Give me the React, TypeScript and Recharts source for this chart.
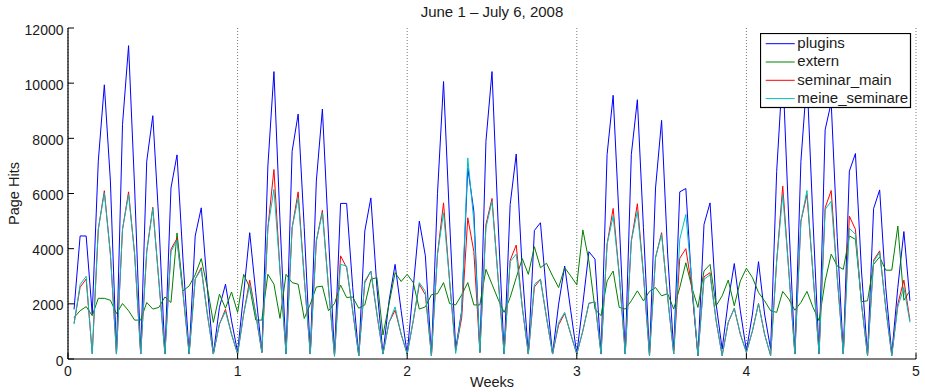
import React from 'react';
import { LineChart, Line, XAxis, YAxis, CartesianGrid, Legend } from 'recharts';

// 6-hour buckets: 28 per week, first bucket ends at 1/28 week
const SLOTS_PER_WEEK = 28;

const plugins = [
  1800, 4460, 4460, 1630, 7170, 9940, 6450, 180, 8500, 11360, 6200, 180, 7170, 8820, 5000, 180,
  6200, 7400, 3550, 180, 4460, 5480, 2590, 180, 1870, 2710, 1385, 250,
  2370, 4580, 2400, 240, 7000, 10420, 5000, 180, 7530, 8880, 4760, 180, 6450, 9060, 4500, 150,
  5640, 5640, 2600, 120, 4640, 5840, 2600, 180, 2100, 3430, 1750, 180,
  2600, 5000, 3740, 120, 6000, 10060, 5000, 360, 1750, 6930, 5360, 240, 7890, 10420, 5000, 180,
  5600, 7430, 3190, 180, 4660, 4940, 2350, 180, 1990, 3370, 1750, 180,
  2000, 3890, 3620, 180, 7410, 9560, 5000, 180, 7410, 9400, 4760, 120, 6200, 8650, 3800, 300,
  6060, 6180, 2600, 120, 4880, 5660, 2000, 360, 2100, 3460, 1750, 300,
  1630, 3530, 1630, 360, 6800, 10500, 5000, 180, 7170, 10200, 5000, 180, 8310, 9300, 4400, 180,
  6810, 7450, 3190, 120, 5450, 6130, 2600, 180, 2600, 4620, 2110,
];

const extern = [
  1500, 1750, 1900, 1570, 2200, 2200, 2130, 1650, 2010, 1750, 1410, 1410, 2050, 1810, 1870, 2250,
  2050, 4570, 2470, 2650, 3050, 3640, 2590, 1325, 2350, 1840, 2430, 1690,
  3070, 2590, 1410, 1410, 3070, 2710, 1470, 3070, 2770, 2710, 1470, 1990, 2610, 2640, 1750, 2010,
  2680, 2230, 2250, 1840, 1960, 2890, 2950, 870, 1990, 3130, 2810, 3070,
  2770, 1810, 1890, 2330, 2370, 2770, 2010, 1960, 2330, 2770, 1960, 1960, 3250, 2710, 2170, 1690,
  2230, 2950, 3640, 3070, 4070, 3310, 3470, 3010, 2590, 3310, 3010, 2690,
  4680, 3550, 1810, 1570, 2830, 3190, 1870, 1810, 2110, 2470, 2110, 2450, 2590, 2290, 2370, 1810,
  2590, 3490, 2590, 1870, 3190, 3430, 1930, 2290, 2860, 1930, 2830, 3290,
  2950, 2410, 2110, 1750, 1690, 2450, 2170, 1770, 2050, 2450, 1870, 1390, 2830, 3800, 3370, 3250,
  4460, 4340, 2080, 2110, 3430, 3700, 3220, 3220, 4820, 2130, 2470,
];

const seminarMain = [
  1300, 2600, 2900, 200, 4700, 6100, 3800, 180, 4700, 6060, 3800, 180, 3900, 5500, 2830, 180,
  3980, 4370, 2350, 180, 2900, 3310, 1630, 180, 1265, 1800, 900, 180,
  1630, 2860, 1630, 240, 4760, 6870, 3200, 180, 4760, 6060, 2950, 180, 4280, 5390, 2600, 100,
  3740, 3310, 1750, 120, 2770, 3190, 1630, 180, 1325, 1770, 900, 180,
  1390, 2710, 2330, 120, 3800, 5660, 2830, 300, 1500, 5120, 3900, 240, 4880, 5820, 2950, 180,
  3580, 4130, 1870, 180, 2610, 2890, 1500, 180, 1240, 1650, 900, 180,
  1020, 2020, 2070, 180, 4160, 5460, 3070, 180, 4280, 5630, 3070, 120, 3680, 4580, 2230, 180,
  3650, 4000, 2600, 120, 2980, 3130, 1390, 120, 1325, 1840, 900, 240,
  1020, 2010, 900, 120, 3550, 6270, 3190, 180, 5000, 5960, 3070, 180, 5480, 6110, 2950, 180,
  5180, 4700, 2000, 120, 3580, 3920, 1870, 120, 2000, 2860, 1390,
];

const meineSeminare = [
  1265, 2700, 3000, 180, 4700, 6025, 3800, 180, 4700, 5960, 3800, 180, 3900, 5450, 2830, 180,
  3900, 4300, 2350, 180, 2900, 3250, 1630, 180, 1265, 1720, 900, 180,
  1630, 2700, 1630, 240, 4760, 6150, 3200, 180, 4760, 5840, 2950, 180, 4280, 5300, 2600, 100,
  3430, 3370, 1750, 120, 2830, 3190, 1630, 180, 1325, 1890, 900, 180,
  1390, 2770, 2450, 120, 3800, 5300, 2830, 200, 1750, 7290, 5000, 240, 4760, 5720, 2950, 180,
  3530, 3800, 1870, 180, 2710, 2890, 1500, 180, 1325, 1690, 900, 180,
  1020, 2020, 2070, 180, 4160, 5180, 3070, 180, 4280, 5360, 3070, 120, 3680, 4520, 2230, 180,
  4340, 5240, 2800, 120, 2890, 3050, 1390, 120, 1325, 1840, 900, 240,
  1020, 2010, 900, 120, 3550, 5960, 3190, 180, 5000, 6110, 3070, 180, 5420, 5720, 2950, 180,
  4740, 4520, 2000, 120, 3530, 3860, 1870, 120, 1900, 2590, 1325,
];

const weekTicks = [0, 1, 2, 3, 4, 5];
const hitTicks = [0, 2000, 4000, 6000, 8000, 10000, 12000];
const seriesKeys = ['plugins', 'extern', 'seminar_main', 'meine_seminare'];
const seriesColors = ['#0000ff', '#008000', '#ff0000', '#00bfbf'];
const titleText = 'June 1 \u2013 July 6, 2008';
const xLabelText = 'Weeks';
const yLabelText = 'Page Hits';

const rows = plugins.map((v, i) => ({
  week: (i + 1) / SLOTS_PER_WEEK,
  plugins: v,
  extern: extern[i],
  seminar_main: seminarMain[i],
  meine_seminare: meineSeminare[i],
}));

const FONT = '"Liberation Sans", Arial, Helvetica, sans-serif';
const TEXT = '#1a1a1a';
const TICK_LEN = 6;

const LeftTick = (p: any) => (
  <g>
    <line x1={p.x} x2={p.x + TICK_LEN} y1={p.y} y2={p.y} stroke="#000" strokeWidth={1} />
    <text x={p.x - 4.5} y={p.y + 6.5} textAnchor="end" fontSize={14} fontFamily={FONT} fill={TEXT}>
      {p.payload.value}
    </text>
  </g>
);

const RightTick = (p: any) => (
  <line x1={p.x} x2={p.x - TICK_LEN} y1={p.y} y2={p.y} stroke="#000" strokeWidth={1} />
);

const BottomTick = (p: any) => (
  <g>
    <line x1={p.x} x2={p.x} y1={p.y} y2={p.y - TICK_LEN} stroke="#000" strokeWidth={1} />
    <text x={p.x} y={p.y + 17} textAnchor="middle" fontSize={14} fontFamily={FONT} fill={TEXT}>
      {p.payload.value}
    </text>
  </g>
);

const TopTick = (p: any) => (
  <line x1={p.x} x2={p.x} y1={p.y} y2={p.y + TICK_LEN} stroke="#000" strokeWidth={1} />
);

const renderLegend = () => (
  <svg width={152} height={76} style={{ display: 'block' }}>
    <rect x={0.5} y={0.5} width={150} height={74} fill="#fff" stroke="#000" strokeWidth={1.2} />
    {seriesKeys.map((k, i) => {
      const cy = 10.7 + i * 18.3;
      return (
        <g key={k}>
          <line x1={5.7} x2={34.7} y1={cy} y2={cy} stroke={seriesColors[i]} strokeWidth={1} />
          <text x={37.3} y={cy + 4.2} fontSize={15} fontFamily={FONT} fill={TEXT}>
            {k}
          </text>
        </g>
      );
    })}
  </svg>
);

export default function App() {
  return (
    <div style={{ position: 'absolute', left: 0, top: 0, width: 925, height: 392, background: '#fff' }}>
      <LineChart
        width={925}
        height={392}
        data={rows}
        margin={{ top: 28, right: 9, bottom: 0, left: 0 }}
      >
        <CartesianGrid horizontal={false} vertical stroke="#777" strokeDasharray="1 2" />
        <XAxis
          dataKey="week"
          type="number"
          domain={[0, 5]}
          ticks={weekTicks}
          interval={0}
          height={33}
          tickSize={0}
          tickMargin={0}
          tickLine={false}
          axisLine={{ stroke: '#000', strokeWidth: 1.2 }}
          tick={BottomTick}
          allowDataOverflow
          label={() => (
            <g>
              <text x={492} y={386.5} textAnchor="middle" fontSize={14.5} fontFamily={FONT} fill={TEXT}>
                {xLabelText}
              </text>
              <text x={492} y={16.8} textAnchor="middle" fontSize={15} fontFamily={FONT} fill={TEXT}>
                {titleText}
              </text>
            </g>
          )}
        />
        <XAxis
          xAxisId="top"
          orientation="top"
          dataKey="week"
          type="number"
          domain={[0, 5]}
          ticks={weekTicks}
          interval={0}
          height={0}
          tickSize={0}
          tickMargin={0}
          tickLine={false}
          axisLine={{ stroke: '#000', strokeWidth: 1.2 }}
          tick={TopTick}
          allowDataOverflow
        />
        <YAxis
          domain={[0, 12000]}
          ticks={hitTicks}
          interval={0}
          width={68}
          tickSize={0}
          tickMargin={0}
          tickLine={false}
          axisLine={{ stroke: '#000', strokeWidth: 1.2 }}
          tick={LeftTick}
          allowDataOverflow
          label={() => (
            <text
              x={19}
              y={193.5}
              transform="rotate(-90, 19, 193.5)"
              textAnchor="middle"
              fontSize={14.5}
              fontFamily={FONT}
              fill={TEXT}
            >
              {yLabelText}
            </text>
          )}
        />
        <YAxis
          yAxisId="right"
          orientation="right"
          domain={[0, 12000]}
          ticks={hitTicks}
          interval={0}
          width={0}
          tickSize={0}
          tickMargin={0}
          tickLine={false}
          axisLine={{ stroke: '#000', strokeWidth: 1.2 }}
          tick={RightTick}
          allowDataOverflow
        />
        {seriesKeys.map((k, i) => (
          <Line
            key={k}
            type="linear"
            dataKey={k}
            name={k}
            stroke={seriesColors[i]}
            strokeWidth={1}
            dot={false}
            activeDot={false}
            isAnimationActive={false}
          />
        ))}
        <Legend
          layout="horizontal"
          verticalAlign="middle"
          align="center"
          content={renderLegend}
          wrapperStyle={{ left: 760, top: 33, width: 152, height: 76, right: 'auto', bottom: 'auto' }}
        />
      </LineChart>
    </div>
  );
}
